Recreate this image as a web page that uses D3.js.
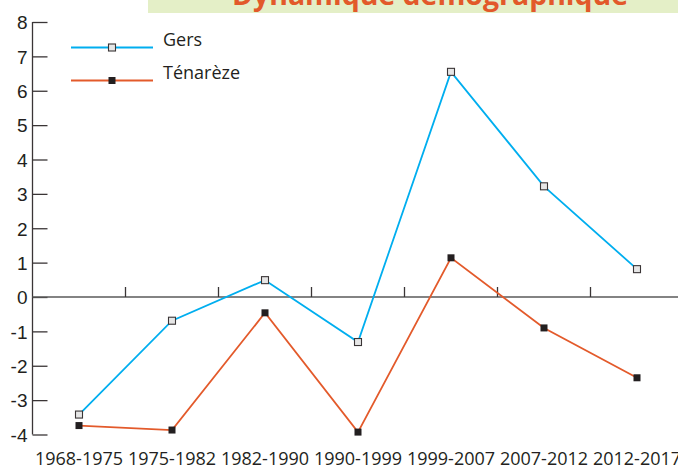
<!DOCTYPE html>
<html lang="fr">
<meta charset="utf-8">
<title>Dynamique démographique</title>
<style>
    body { margin: 0; background: white; }
    svg  { display: block; font-family: "Open Sans", "Noto Sans", sans-serif; }
</style>
<script src="https://cdn.jsdelivr.net/npm/d3@7"></script>
<body>
<svg id="canvas"></svg>
<script>

    ////////////////////// Data ///////////////////////
    var periods   = ["1968-1975", "1975-1982", "1982-1990", "1990-1999",
                     "1999-2007", "2007-2012", "2012-2017"];
    var gers      = [-3.42, -0.69, 0.49, -1.31, 6.55, 3.22, 0.81];
    var tenareze  = [-3.74, -3.87, -0.46, -3.93, 1.14, -0.90, -2.35];
    var y_ticks   = [8, 7, 6, 5, 4, 3, 2, 1, 0, -1, -2, -3, -4];
    var series    = [
        { name: "Gers",     values: gers,     filled: false },
        { name: "Ténarèze", values: tenareze, filled: true  }
    ];
    var title_text = "Dynamique démographique";
    ///////////////////////////////////////////////////

    ///////// Position and Dimension Variables ////////
    var dimensions = [678, 465];
    var axis_x     = 32.5;
    var plot_top   = 22;
    var plot_bot   = 434.5;
    var band_w     = 93;
    var tick_len   = 15;
    var mark_size  = 7;
    ///////////////////////////////////////////////////

    ///////////////// Style Variables /////////////////
    var gers_color   = '#00aeef';
    var ten_color    = '#e35a2b';
    var axis_color   = '#3a3536';
    var zero_color   = '#5a5a5a';
    var text_color   = '#231f20';
    var banner_color = '#e4efc7';
    var title_color  = '#e2592a';
    ///////////////////////////////////////////////////

    var canvas = d3.select("#canvas")
        .attr('width',  dimensions[0])
        .attr('height', dimensions[1]);

    var x = d3.scaleBand()
        .domain(periods)
        .range([axis_x, axis_x + band_w * periods.length]);
    var y = d3.scaleLinear()
        .domain([-4, 8])
        .range([plot_bot, plot_top]);

    //////////////////// title band ///////////////////
    canvas.append("rect")
        .attr('x', 148).attr('y', 0)
        .attr('width', dimensions[0] - 148)
        .attr('height', 13)
        .attr('fill', banner_color);
    canvas.append("text")
        .attr('x', 232).attr('y', 5)
        .attr('textLength', 396)
        .attr('lengthAdjust', 'spacingAndGlyphs')
        .attr('font-size', 28)
        .attr('font-weight', 'bold')
        .attr('fill', title_color)
        .text(title_text);
    ///////////////////////////////////////////////////

    ///////////////////// y axis //////////////////////
    var yAxis = d3.axisRight(y)
        .tickValues(y_ticks)
        .tickSize(tick_len)
        .tickFormat(function (d) { return String(d); });
    var gy = canvas.append("g")
        .attr('transform', 'translate(' + axis_x + ',0)')
        .call(yAxis);
    gy.select(".domain")
        .attr('d', 'M0,' + plot_top + 'V' + plot_bot)
        .attr('stroke', axis_color)
        .attr('stroke-width', 1.3);
    gy.selectAll(".tick line")
        .attr('stroke', axis_color)
        .attr('stroke-width', 1.3);
    gy.selectAll(".tick text")
        .attr('x', -5)
        .attr('dy', '0.36em')
        .attr('text-anchor', 'end')
        .attr('font-size', 19)
        .attr('fill', text_color);
    ///////////////////////////////////////////////////

    //////////////////// zero line ////////////////////
    var xAxis = d3.axisTop(x)
        .tickValues([])
        .tickSizeOuter(0);
    var gx = canvas.append("g")
        .attr('transform', 'translate(0,' + y(0) + ')')
        .call(xAxis);
    gx.select(".domain")
        .attr('d', 'M' + axis_x + ',0H' + dimensions[0])
        .attr('stroke', zero_color)
        .attr('stroke-width', 1.6);
    gx.selectAll(".sep")
        .data(periods.slice(1))
        .join("line")
        .attr('class', 'sep')
        .attr('x1', function (d) { return x(d); })
        .attr('x2', function (d) { return x(d); })
        .attr('y1', 0)
        .attr('y2', -10)
        .attr('stroke', axis_color)
        .attr('stroke-width', 1.3);

    // category labels below the plot
    canvas.selectAll(".xlab")
        .data(periods)
        .join("text")
        .attr('class', 'xlab')
        .attr('x', function (d) { return x(d) + x.bandwidth() / 2; })
        .attr('y', 465)
        .attr('text-anchor', 'middle')
        .attr('font-size', 18)
        .attr('fill', text_color)
        .text(function (d) { return d; });
    ///////////////////////////////////////////////////

    ////////////////////// lines //////////////////////
    var line = d3.line()
        .x(function (d, i) { return x(periods[i]) + x.bandwidth() / 2; })
        .y(function (d) { return y(d); });

    series.forEach(function (s) {
        var col = s.filled ? ten_color : gers_color;
        canvas.append("path")
            .datum(s.values)
            .attr('d', line)
            .attr('fill', 'none')
            .attr('stroke', col)
            .attr('stroke-width', 1.8);
        canvas.selectAll(null)
            .data(s.values)
            .join("rect")
            .attr('x', function (d, i) { return x(periods[i]) + x.bandwidth() / 2 - mark_size / 2; })
            .attr('y', function (d) { return y(d) - mark_size / 2; })
            .attr('width',  mark_size)
            .attr('height', mark_size)
            .attr('fill',   s.filled ? '#231f20' : '#e6e6e6')
            .attr('stroke', s.filled ? 'none' : '#3a3536')
            .attr('stroke-width', 1.1);
    });
    ///////////////////////////////////////////////////

    ///////////////////// legend //////////////////////
    var legend = canvas.selectAll(".leg")
        .data(series)
        .join("g")
        .attr('class', 'leg')
        .attr('transform', function (d, i) { return 'translate(71,' + (47.5 + i * 33) + ')'; });
    legend.append("line")
        .attr('x1', 0).attr('x2', 82)
        .attr('stroke', function (d) { return d.filled ? ten_color : gers_color; })
        .attr('stroke-width', 2);
    legend.append("rect")
        .attr('x', 41 - mark_size / 2)
        .attr('y', -mark_size / 2)
        .attr('width',  mark_size)
        .attr('height', mark_size)
        .attr('fill',   function (d) { return d.filled ? '#231f20' : '#e6e6e6'; })
        .attr('stroke', function (d) { return d.filled ? 'none' : '#3a3536'; })
        .attr('stroke-width', 1.1);
    legend.append("text")
        .attr('x', 92)
        .attr('y', 0)
        .attr('dy', '-0.1em')
        .attr('font-size', 18)
        .attr('fill', text_color)
        .text(function (d) { return d.name; });
    ///////////////////////////////////////////////////

</script>
</body>
</html>
